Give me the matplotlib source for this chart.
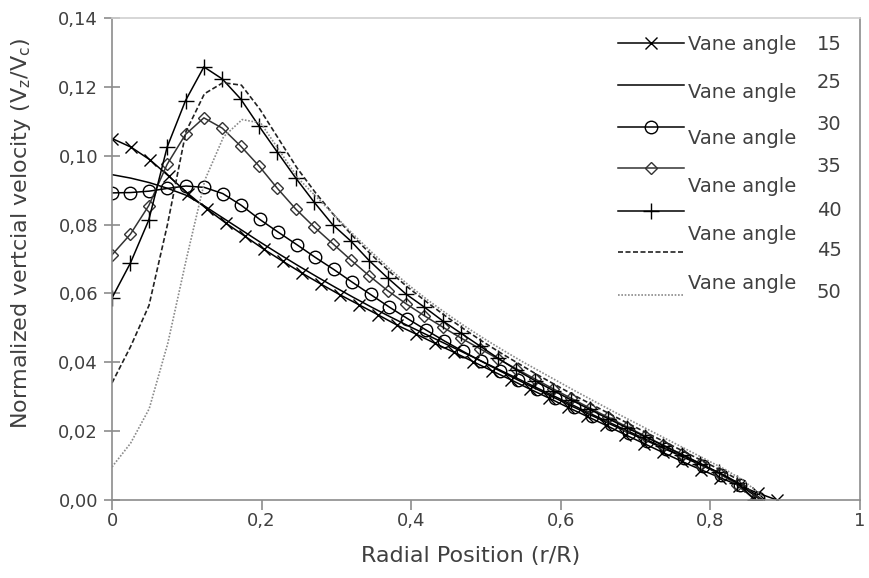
import numpy as np
import matplotlib
matplotlib.use('Agg')
import matplotlib.pyplot as plt
from matplotlib.lines import Line2D
from matplotlib.ticker import FuncFormatter

plt.rcParams['font.family'] = ['DejaVu Sans']

# vane angles and end of each radial profile (r/R)
angles = [15, 25, 30, 35, 40, 45, 50]
r_end = [0.889, 0.870, 0.864, 0.860, 0.860, 0.865, 0.870]

# normalized vertical velocity, 36 samples per profile from r/R = 0 to r_end
v15 = [0.1050, 0.1025, 0.0988, 0.0940, 0.0890, 0.0845, 0.0804, 0.0766, 0.0728, 0.0693,
       0.0659, 0.0627, 0.0596, 0.0567, 0.0538, 0.0508, 0.0482, 0.0455, 0.0429, 0.0402,
       0.0375, 0.0349, 0.0322, 0.0296, 0.0269, 0.0243, 0.0217, 0.0190, 0.0164, 0.0138,
       0.0112, 0.0088, 0.0065, 0.0042, 0.0020, 0.0000]
v25 = [0.0945, 0.0935, 0.0922, 0.0905, 0.0885, 0.0853, 0.0818, 0.0783, 0.0748, 0.0714,
       0.0681, 0.0649, 0.0618, 0.0588, 0.0559, 0.0531, 0.0504, 0.0478, 0.0452, 0.0426,
       0.0400, 0.0374, 0.0348, 0.0322, 0.0296, 0.0270, 0.0244, 0.0219, 0.0194, 0.0169,
       0.0144, 0.0119, 0.0095, 0.0070, 0.0040, 0.0000]
v30 = [0.0892, 0.0893, 0.0897, 0.0905, 0.0912, 0.0908, 0.0890, 0.0856, 0.0815, 0.0778,
       0.0742, 0.0705, 0.0670, 0.0633, 0.0597, 0.0561, 0.0527, 0.0494, 0.0462, 0.0432,
       0.0403, 0.0375, 0.0348, 0.0322, 0.0296, 0.0270, 0.0245, 0.0220, 0.0195, 0.0171,
       0.0147, 0.0123, 0.0099, 0.0074, 0.0044, 0.0005]
v35 = [0.0712, 0.0772, 0.0855, 0.0975, 0.1062, 0.1110, 0.1080, 0.1028, 0.0970, 0.0905,
       0.0845, 0.0793, 0.0745, 0.0697, 0.0651, 0.0608, 0.0570, 0.0535, 0.0502, 0.0470,
       0.0440, 0.0410, 0.0381, 0.0352, 0.0323, 0.0295, 0.0267, 0.0240, 0.0213, 0.0186,
       0.0159, 0.0133, 0.0106, 0.0078, 0.0045, 0.0000]
v40 = [0.0587, 0.0688, 0.0813, 0.1025, 0.1160, 0.1258, 0.1223, 0.1165, 0.1086, 0.1010,
       0.0935, 0.0865, 0.0800, 0.0752, 0.0695, 0.0645, 0.0598, 0.0560, 0.0520, 0.0484,
       0.0448, 0.0412, 0.0378, 0.0347, 0.0318, 0.0290, 0.0263, 0.0236, 0.0210, 0.0184,
       0.0158, 0.0132, 0.0106, 0.0080, 0.0050, 0.0000]
v45 = [0.0340, 0.0445, 0.0565, 0.0800, 0.1070, 0.1180, 0.1212, 0.1205, 0.1135, 0.1050,
       0.0965, 0.0893, 0.0828, 0.0768, 0.0714, 0.0664, 0.0618, 0.0576, 0.0536, 0.0498,
       0.0462, 0.0428, 0.0396, 0.0364, 0.0334, 0.0304, 0.0276, 0.0248, 0.0220, 0.0193,
       0.0166, 0.0139, 0.0112, 0.0085, 0.0055, 0.0000]
v50 = [0.0096, 0.0165, 0.0265, 0.0455, 0.0700, 0.0930, 0.1055, 0.1105, 0.1095, 0.1015,
       0.0935, 0.0880, 0.0825, 0.0770, 0.0718, 0.0668, 0.0622, 0.0580, 0.0541, 0.0504,
       0.0469, 0.0436, 0.0404, 0.0374, 0.0344, 0.0314, 0.0285, 0.0256, 0.0228, 0.0200,
       0.0172, 0.0144, 0.0116, 0.0088, 0.0055, 0.0010]

series = [v15, v25, v30, v35, v40, v45, v50]

# line styles: (marker, markersize, linestyle, color, linewidth)
styles = [
    ('x', 9, '-', 'black', 1.1),
    (None, 0, '-', 'black', 1.1),
    ('o', 9, '-', 'black', 1.1),
    ('D', 6, '-', '#333333', 1.1),
    ('+', 11, '-', 'black', 1.1),
    (None, 0, (0, (3, 1.5)), '#222222', 1.2),
    (None, 0, (0, (1, 1)), '#8a8a8a', 1.2),
]

fig = plt.figure(figsize=(8.69, 5.78), dpi=100)
ax = fig.add_axes([112 / 869, 1 - 500 / 578, 748 / 869, 482 / 578])

for vals, end, (mk, ms, ls, col, lw) in zip(series, r_end, styles):
    r = np.linspace(0, end, len(vals))
    ax.plot(r, vals, linestyle=ls, color=col, linewidth=lw, marker=mk,
            markersize=ms, markerfacecolor='none', markeredgecolor=col,
            markeredgewidth=1.0)

ax.set_xlim(0, 1)
ax.set_ylim(0, 0.14)
ax.set_xticks([0, 0.2, 0.4, 0.6, 0.8, 1.0])
ax.set_yticks(np.arange(0, 0.141, 0.02))
ax.xaxis.set_major_formatter(FuncFormatter(lambda v, p: '0' if v == 0 else ('1' if abs(v - 1) < 1e-9 else f'{v:.1f}'.replace('.', ','))))
ax.yaxis.set_major_formatter(FuncFormatter(lambda v, p: f'{v:.2f}'.replace('.', ',')))

gray = '#8c8c8c'
for s in ax.spines.values():
    s.set_color(gray)
    s.set_linewidth(1.2)
ax.spines['top'].set_color('#d0d0d0')
ax.tick_params(axis='y', direction='inout', length=12, width=1.2, color=gray,
               labelsize=13, labelcolor='#404040', pad=4)
ax.tick_params(axis='x', direction='out', length=7, width=1.2, color=gray,
               labelsize=13, labelcolor='#404040', pad=2)

ax.set_xlabel('Radial Position (r/R)', fontsize=16, color='#404040', va='center')
ax.xaxis.set_label_coords(0.48, (500 - 556) / 482)
ax.set_ylabel(r'Normalized vertcial velocity (V$_\mathregular{z}$/V$_\mathregular{c}$)',
              fontsize=16, color='#404040', va='center')
ax.yaxis.set_label_coords((21 - 112) / 748, (500 - 233) / 482)

# legend drawn by hand to keep the wrapped text layout
W, H = 869, 578
handle_y = [43, 85, 127, 168, 211, 252, 295]
num_y = [45, 83, 125, 167, 210, 250, 292]
word_y = [45, 92, 138, 186, None, 235, 283]
for i, (mk, ms, ls, col, lw) in enumerate(styles):
    yy = 1 - handle_y[i] / H
    fig.add_artist(Line2D([618 / W, 684 / W], [yy, yy], transform=fig.transFigure,
                          linestyle=ls, color=col, linewidth=lw))
    if mk:
        fig.add_artist(Line2D([651 / W], [yy], transform=fig.transFigure, marker=mk,
                              markersize=ms, markerfacecolor='none', markeredgecolor=col,
                              markeredgewidth=1.0, linestyle='none'))
    fig.text(817 / W, 1 - num_y[i] / H, str(angles[i]), fontsize=14, color='#404040',
             va='center', ha='left')
    if word_y[i] is not None:
        fig.text(688 / W, 1 - word_y[i] / H, 'Vane angle', fontsize=14, color='#404040',
                 va='center', ha='left')

fig.savefig('out.png', dpi=100)
